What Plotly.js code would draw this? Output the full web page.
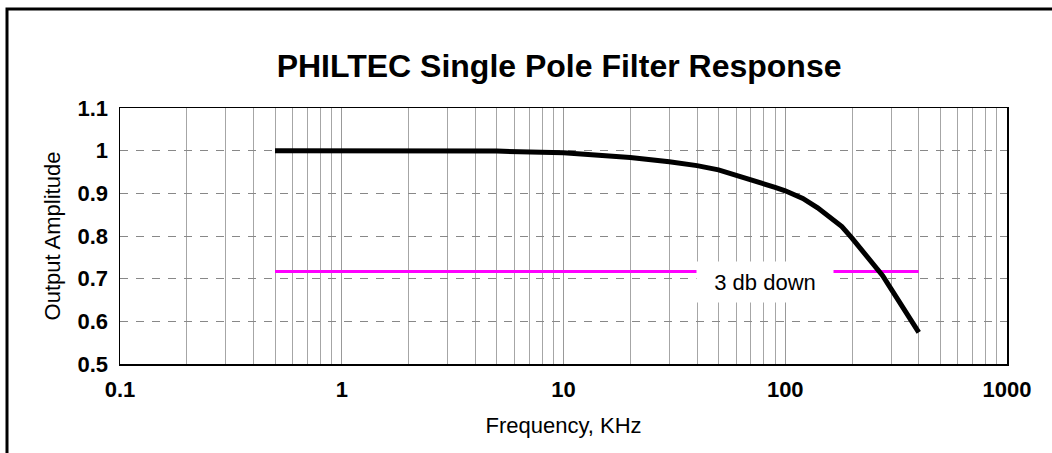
<!DOCTYPE html>
<html>
<head>
<meta charset="utf-8">
<script src="https://cdn.plot.ly/plotly-3.0.1.min.js"></script>
<style>
  html, body { margin: 0; padding: 0; background: #fff; }
  #chart { width: 1052px; height: 453px; }
</style>
</head>
<body>
<div id="chart"></div>
<script>
// Frequency response
var freqKHz = [0.5, 1, 2, 5, 10, 20, 30, 40, 50, 60, 70, 80, 90, 100, 110, 120, 140, 160, 180, 200, 225, 250, 275, 300, 325, 350, 375, 400];
var amplitude = [1.0, 1.0, 1.0, 0.999, 0.995, 0.984, 0.974, 0.965, 0.955, 0.943, 0.931, 0.922, 0.914, 0.906, 0.898, 0.888, 0.866, 0.844, 0.822, 0.795, 0.764, 0.736, 0.707, 0.676, 0.647, 0.619, 0.594, 0.574];

// 3 dB reference line
var refFreq = [0.5, 400];
var refLevel = [0.717, 0.717];
var refLabel = '3 db down';
var refLabelFreq = 80.9;
var refLabelLevel = 0.693;

var xTickVals = [0.1, 1, 10, 100, 1000];
var xTickText = ['0.1', '1', '10', '100', '1000'];
var yTickVals = [0.5, 0.6, 0.7, 0.8, 0.9, 1.0, 1.1];
var yTickText = ['0.5', '0.6', '0.7', '0.8', '0.9', '1', '1.1'];

var FONT = '"Liberation Sans", Arial, sans-serif';

var traces = [
  {
    x: refFreq, y: refLevel, type: 'scatter', mode: 'lines',
    line: { color: '#ff00ff', width: 3 }, hoverinfo: 'skip', showlegend: false
  },
  {
    x: freqKHz, y: amplitude, type: 'scatter', mode: 'lines',
    line: { color: '#000000', width: 5 }, showlegend: false
  }
];

var layout = {
  width: 1052, height: 453,
  margin: { l: 120, r: 45, t: 108, b: 89, pad: 0 },
  paper_bgcolor: '#ffffff', plot_bgcolor: '#ffffff',
  font: { family: FONT, color: '#000000', size: 22 },
  title: {
    text: '<b>PHILTEC Single Pole Filter Response</b>',
    font: { family: FONT, size: 32, color: '#000' },
    xref: 'paper', x: 0.495, xanchor: 'center',
    yref: 'container', y: 1 - 66 / 453, yanchor: 'middle'
  },
  xaxis: {
    type: 'log', range: [-1, 3],
    tickvals: xTickVals, ticktext: xTickText,
    tickfont: { family: FONT, size: 22, color: '#000', weight: 'bold' },
    ticks: '', ticklabelstandoff: 5,
    showline: true, linecolor: '#000', linewidth: 1.5, mirror: true,
    showgrid: true, gridcolor: '#999999', gridwidth: 1,
    minor: { dtick: 'D1', showgrid: true, gridcolor: '#a6a6a6', gridwidth: 1, ticks: '' },
    zeroline: false,
    title: { text: 'Frequency, KHz', font: { family: FONT, size: 22, color: '#000' }, standoff: 16 }
  },
  yaxis: {
    range: [0.5, 1.1],
    tickvals: yTickVals, ticktext: yTickText,
    tickfont: { family: FONT, size: 22, color: '#000', weight: 'bold' },
    ticks: '', ticklabelstandoff: 6,
    showline: true, linecolor: '#000', linewidth: 1.5, mirror: true,
    showgrid: true, gridcolor: '#888888', gridwidth: 1, griddash: '8px,8px',
    zeroline: false,
    title: { text: 'Output Amplitude', font: { family: FONT, size: 22, color: '#000' }, standoff: 11 }
  },
  annotations: [
    {
      x: Math.log10(refLabelFreq), y: refLabelLevel, xref: 'x', yref: 'y',
      text: refLabel, showarrow: false,
      font: { family: FONT, size: 22, color: '#000' },
      bgcolor: '#ffffff', width: 134, height: 38
    }
  ],
  shapes: [
    {
      type: 'rect', xref: 'paper', yref: 'paper', layer: 'above',
      x0: (7 - 120) / 887, x1: 1.2, y0: -0.6, y1: (364 - 9) / 256,
      line: { color: '#000', width: 3 }, fillcolor: 'rgba(0,0,0,0)'
    }
  ]
};

Plotly.newPlot('chart', traces, layout, { displayModeBar: false, staticPlot: true });
</script>
</body>
</html>
